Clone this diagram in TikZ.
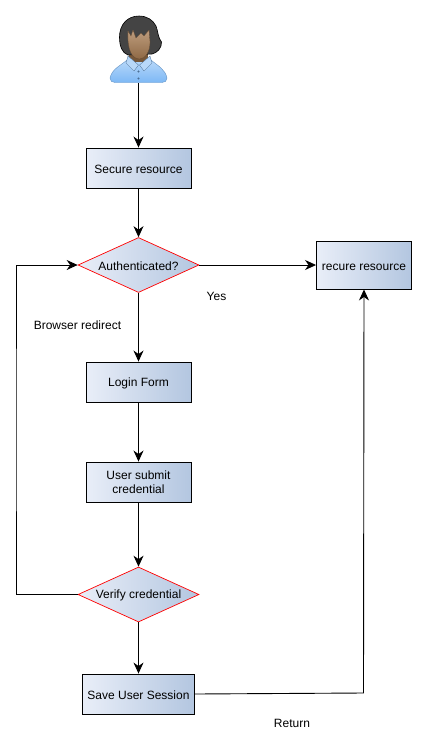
\documentclass[tikz,border=0pt]{standalone}
\usepackage{fontspec}
\setmainfont{Liberation Sans}
\usetikzlibrary{arrows.meta,shapes.geometric}
\definecolor{boxleft}{HTML}{E9EEF8}
\definecolor{boxright}{HTML}{B3C6E0}
\definecolor{hairdark}{HTML}{444444}
\definecolor{skin}{HTML}{A87C52}
\definecolor{shirt}{HTML}{7DB8F5}
\begin{document}
\begin{tikzpicture}[x=1pt,y=-1pt,font=\fontsize{12}{14}\selectfont,>={Stealth[length=11pt,width=10pt,inset=3.5pt]},line width=0.9pt,
box/.style={draw=black,left color=boxleft,right color=boxright,align=center,minimum width=105pt,minimum height=40pt,inner sep=0pt,execute at begin node={\rule{0pt}{10.8pt}}},
decide/.style={diamond,draw=red,line width=0.7pt,left color=boxleft,right color=boxright,align=center,aspect=2.2,minimum width=121pt,minimum height=55pt,inner sep=0pt,execute at begin node={\rule{0pt}{10.8pt}}},
lbl/.style={inner sep=0pt}]
\useasboundingbox (0,0) rectangle (426,748);
% person
\path[top color=shirt!55!white,bottom color=shirt,draw=shirt!80!black,line width=0.4pt] (110,78) .. controls (112,69) and (120,66) .. (127,60) -- (151,60) .. controls (158,66) and (165,69) .. (167,78) .. controls (167,81) and (165,82.5) .. (162,82.5) -- (115,82.5) .. controls (112,82.5) and (110,81) .. (110,78) -- cycle;
\fill[skin!70!black] (129,50) rectangle (148,62);
\fill[shirt!55!white,draw=shirt!60!black,line width=0.3pt] (128,56) -- (138.5,65) -- (134,71) -- (126,63) -- cycle;
\fill[shirt!55!white,draw=shirt!60!black,line width=0.3pt] (150,56) -- (139.5,65) -- (144,71) -- (152,63) -- cycle;
\fill[shirt!60!black] (138.5,71.5) circle (1.2) (138.5,78.5) circle (1.2);
\fill[hairdark,draw=black,line width=0.6pt] (139,16) .. controls (127,16) and (119.5,25) .. (119.5,37) .. controls (119.5,46) and (122,53) .. (128,55) -- (152,54) .. controls (157,53) and (162,48) .. (161.5,42) .. controls (158,38) and (158,31) .. (156,26) .. controls (153,20) and (147,16) .. (139,16) -- cycle;
\path[top color=skin!75!white,bottom color=skin!85!black,draw=skin!60!black,line width=0.3pt] (128,31) -- (131,36) -- (133,30) -- (136,38) -- (141,33) -- (144,36) -- (149,30) -- (150,42) .. controls (150,52) and (145,59) .. (139.5,59) .. controls (132,59) and (127,50) .. (128,31) -- cycle;
\coordinate (user) at (138.5,83);
% flow
\node[box] (secure) at (138.5,168) {Secure resource};
\node[decide] (auth) at (138.5,265) {Authenticated?};
\node[box,minimum width=95pt,minimum height=48pt] (recure) at (364,265) {recure resource};
\node[box] (login) at (138.5,382) {Login Form};
\node[box] (submit) at (138.5,482) {User submit\\credential};
\node[decide] (verify) at (138.5,594.5) {Verify credential};
\node[box,minimum width=112pt] (save) at (138.5,694) {Save User Session};
\foreach \a/\b in {user/secure,secure/auth,auth/login,login/submit,submit/verify,verify/save,auth/recure}{\draw[->] (\a)--(\b);}
\draw[->] (verify.west)-|(16,430)|-(auth.west);
\draw[->] (save.east)--(363.5,693)--(recure.south);
\node[lbl] (yes) at (216.5,296) {Yes};
\node[lbl] (redirect) at (77.5,325) {Browser redirect};
\node[lbl] (back) at (292,723.5) {Return};
\end{tikzpicture}
\end{document}
